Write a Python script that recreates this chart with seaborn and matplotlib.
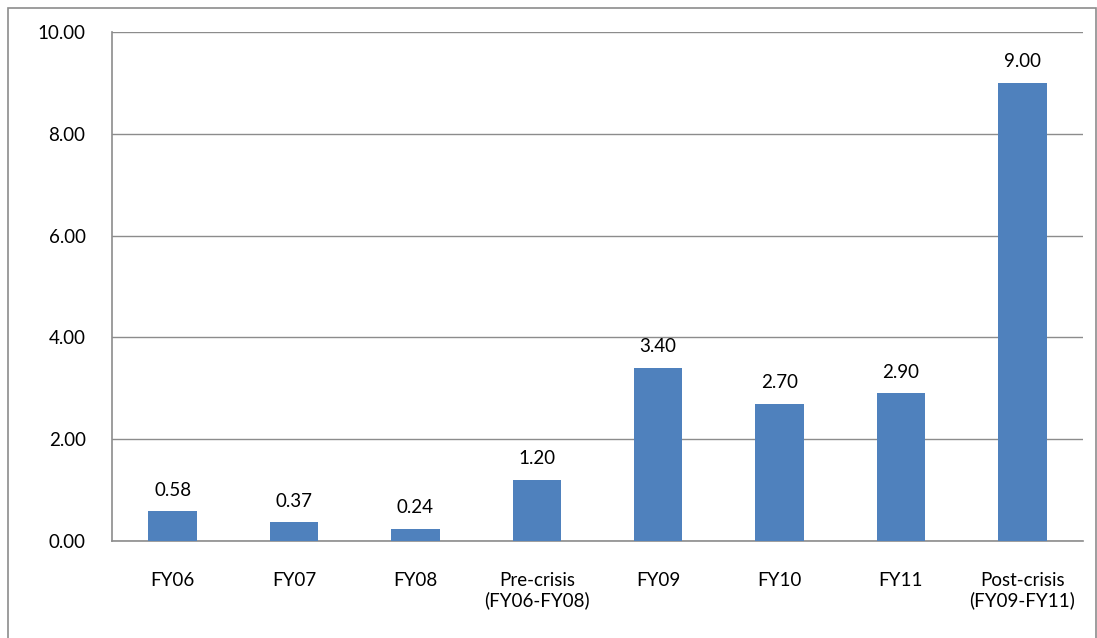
import matplotlib
matplotlib.use("Agg")
import matplotlib.pyplot as plt
import seaborn as sns
import pandas as pd
from matplotlib.patches import Rectangle

categories = ["FY06", "FY07", "FY08", "Pre-crisis\n(FY06-FY08)",
              "FY09", "FY10", "FY11", "Post-crisis\n(FY09-FY11)"]
values = [0.58, 0.37, 0.24, 1.20, 3.40, 2.70, 2.90, 9.00]
y_ticks = [0, 2, 4, 6, 8, 10]

sns.set_theme(style="white")
plt.rcParams["font.family"] = ["Lato", "DejaVu Sans"]

df = pd.DataFrame({"category": categories, "value": values})

fig = plt.figure(figsize=(10.97, 6.38), dpi=100)
ax = fig.add_axes([112 / 1097, 1 - 541 / 638, (1083 - 112) / 1097, (541 - 32) / 638])

sns.barplot(data=df, x="category", y="value", color="#4F81BD", saturation=1,
            width=0.4, ax=ax, zorder=3, linewidth=0)

ax.set_ylim(0, 10)
ax.set_xlim(-0.5, len(categories) - 0.5)
ax.set_yticks(y_ticks)
ax.set_yticklabels([f"{t:.2f}" for t in y_ticks])
ax.set_xlabel("")
ax.set_ylabel("")

ax.yaxis.grid(True, color="#8C8C8C", linewidth=1.0, zorder=0)
ax.xaxis.grid(False)
ax.set_axisbelow(True)

for side in ["top", "right"]:
    ax.spines[side].set_visible(False)
for side in ["left", "bottom"]:
    ax.spines[side].set_color("#8C8C8C")
    ax.spines[side].set_linewidth(1.2)

fs = 13.5
ax.tick_params(axis="y", length=0, pad=19, labelsize=fs, colors="#000000")
ax.tick_params(axis="x", length=0, pad=22, labelsize=fs, colors="#000000")
for lbl in ax.get_xticklabels():
    lbl.set_linespacing(1.2)
    lbl.set_verticalalignment("top")

for i, v in enumerate(values):
    ax.annotate(f"{v:.2f}", xy=(i, v), xytext=(0, 9), textcoords="offset points",
                ha="center", va="bottom", fontsize=fs, color="#000000")

# outer chart frame
fig.patches.append(Rectangle((8 / 1097, -0.05), (1096 - 8) / 1097, 1 - 8 / 638 + 0.05,
                             transform=fig.transFigure, fill=False,
                             edgecolor="#8C8C8C", linewidth=1.2))

fig.savefig("out.png", dpi=100)
